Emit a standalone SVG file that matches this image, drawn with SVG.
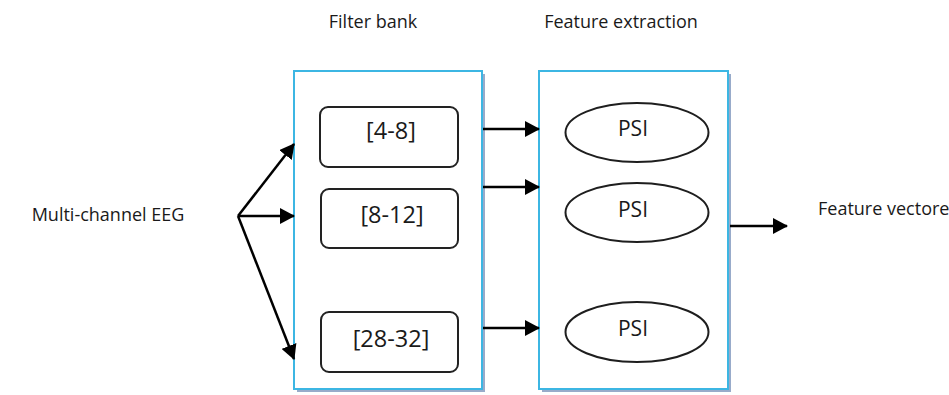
<svg xmlns="http://www.w3.org/2000/svg" width="949" height="395" viewBox="0 0 949 395">
  <style>
    .title { font-family: "Open Sans", "Liberation Sans", sans-serif; font-size: 18px; fill: #1a1a1a; }
    .band { font-family: "Open Sans", "Liberation Sans", sans-serif; font-size: 23.5px; fill: #1a1a1a; text-anchor: middle; }
    .psi { font-family: "Open Sans", "Liberation Sans", sans-serif; font-size: 21px; fill: #1a1a1a; text-anchor: middle; }
    .panel { fill: #ffffff; stroke: #3cb6e3; stroke-width: 2; }
    .shadow { fill: #98abca; }
    .filter { fill: #ffffff; stroke: #222222; stroke-width: 2; }
    .psi-shape { fill: #ffffff; stroke: #1e1e1e; stroke-width: 2; }
    .link { fill: none; stroke: #000000; stroke-width: 2.5; marker-end: url(#head); }
  </style>
  <defs>
    <marker id="head" markerUnits="userSpaceOnUse" markerWidth="15" markerHeight="16" viewBox="0 0 15 16" refX="14" refY="8" orient="auto">
      <path d="M0,0 L15,8 L0,16 Z" fill="#000000"/>
    </marker>
  </defs>

  <rect width="949" height="395" fill="#ffffff"/>

  <!-- column headings -->
  <text class="title" x="373" y="28" text-anchor="middle">Filter bank</text>
  <text class="title" x="621" y="28" text-anchor="middle">Feature extraction</text>

  <!-- input label -->
  <g id="input">
    <text class="title" x="108" y="221" text-anchor="middle">Multi-channel EEG</text>
  </g>

  <!-- filter bank panel -->
  <g id="filter-bank">
    <rect class="shadow" x="297" y="74" width="188" height="318"/>
    <rect class="panel" x="294" y="71" width="188" height="318"/>
  </g>

  <g id="band-4-8">
    <rect class="filter" x="320" y="107" width="138" height="60" rx="8"/>
    <text class="band" x="391" y="139">[4-8]</text>
  </g>
  <g id="band-8-12">
    <rect class="filter" x="321" y="189" width="137" height="59" rx="8"/>
    <text class="band" x="392" y="223">[8-12]</text>
  </g>
  <g id="band-28-32">
    <rect class="filter" x="321" y="312" width="137" height="60" rx="8"/>
    <text class="band" x="391" y="347">[28-32]</text>
  </g>

  <!-- feature extraction panel -->
  <g id="feature-extraction">
    <rect class="shadow" x="542" y="74" width="189" height="318"/>
    <rect class="panel" x="539" y="71" width="189" height="318"/>
  </g>

  <g id="psi-1">
    <ellipse class="psi-shape" cx="637" cy="132.5" rx="71.5" ry="29.5"/>
    <text class="psi" x="633" y="136">PSI</text>
  </g>
  <g id="psi-2">
    <ellipse class="psi-shape" cx="637" cy="212.5" rx="71.5" ry="29.5"/>
    <text class="psi" x="633" y="217">PSI</text>
  </g>
  <g id="psi-3">
    <ellipse class="psi-shape" cx="637" cy="332" rx="71.5" ry="30"/>
    <text class="psi" x="633" y="336">PSI</text>
  </g>

  <!-- output label -->
  <g id="output">
    <text class="title" x="818" y="215">Feature vectore</text>
  </g>

  <!-- connectors -->
  <g id="connectors">
    <line class="link" x1="238" y1="216" x2="294" y2="144"/>
    <line class="link" x1="238" y1="216" x2="294" y2="216"/>
    <line class="link" x1="238" y1="216" x2="294" y2="359"/>
    <line class="link" x1="483" y1="129" x2="539" y2="129"/>
    <line class="link" x1="483" y1="187" x2="539" y2="187"/>
    <line class="link" x1="483" y1="328" x2="539" y2="328"/>
    <line class="link" x1="730" y1="226" x2="787" y2="226"/>
  </g>
</svg>
